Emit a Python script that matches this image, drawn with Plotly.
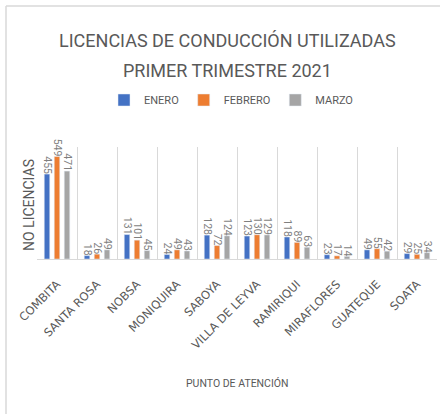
import plotly.graph_objects as go

categories = ["COMBITA", "SANTA ROSA", "NOBSA", "MONIQUIRA", "SABOYA",
              "VILLA DE LEYVA", "RAMIRIQUI", "MIRAFLORES", "GUATEQUE", "SOATA"]
enero = [455, 18, 131, 24, 128, 123, 118, 23, 49, 29]
febrero = [549, 26, 101, 49, 72, 130, 89, 17, 55, 25]
marzo = [471, 49, 45, 43, 124, 129, 63, 14, 42, 34]

series = [("ENERO", enero, "#4472C4"),
          ("FEBRERO", febrero, "#ED7D31"),
          ("MARZO", marzo, "#A5A5A5")]

title_lines = ["LICENCIAS DE CONDUCCIÓN UTILIZADAS", "PRIMER TRIMESTRE 2021"]

FONT = "Roboto, DejaVu Sans, sans-serif"
TICKFONT = "DejaVu Sans, sans-serif"
W, H = 440, 414
ML, MR, MT, MB = 37, 3, 147, 155
PW = W - ML - MR
PH = H - MT - MB

def px_x(px):
    return (px - ML) / PW

def px_y(py):
    return (H - MB - py) / PH

fig = go.Figure()
for name, vals, color in series:
    fig.add_trace(go.Bar(
        x=categories, y=vals, name=name, marker_color=color,
        text=[str(v) for v in vals], textposition="outside", textangle=90,
        constraintext="none", cliponaxis=False,
        textfont=dict(family=FONT, size=10.5, color="#7F7F7F"),
    ))

fig.update_layout(
    width=W, height=H,
    margin=dict(l=ML, r=MR, t=MT, b=MB),
    paper_bgcolor="white", plot_bgcolor="white",
    barmode="group", bargap=0.25, bargroupgap=0.45,
    legend=dict(orientation="h", x=px_x(231), xanchor="center",
                y=px_y(100), yanchor="middle",
                font=dict(family=FONT, size=11, color="#595959"),
                itemwidth=30, bgcolor="rgba(0,0,0,0)"),
    showlegend=True,
)
fig.update_xaxes(
    type="category", tickson="boundaries", showgrid=True, gridcolor="#D9D9D9",
    gridwidth=1, showline=True, linecolor="#D9D9D9", ticks="", tickangle=-45,
    ticklabelstandoff=13,
    tickfont=dict(family=TICKFONT, size=11.5, color="#595959"),
)
fig.update_yaxes(range=[0, 600], showgrid=False, showticklabels=False,
                 zeroline=False, showline=False, ticks="")

# chart title (two centred lines)
for line, yc in zip(title_lines, [40, 70]):
    fig.add_annotation(text=line, xref="paper", yref="paper",
                       x=px_x(227), y=px_y(yc), xanchor="center", yanchor="middle",
                       showarrow=False,
                       font=dict(family=FONT, size=18, color="#595959"))

fig.add_annotation(text="NO LICENCIAS", textangle=-90, xref="paper", yref="paper",
                   x=px_x(29), y=px_y(205), xanchor="center", yanchor="middle",
                   showarrow=False,
                   font=dict(family=FONT, size=14, color="#595959"))
fig.add_annotation(text="PUNTO DE ATENCIÓN", xref="paper", yref="paper",
                   x=px_x(237), y=px_y(383), xanchor="center", yanchor="middle",
                   showarrow=False,
                   font=dict(family=FONT, size=10.5, color="#595959"))

# chart frame (top and left edges)
fig.add_shape(type="line", xref="paper", yref="paper",
              x0=px_x(6), x1=px_x(440), y0=px_y(6), y1=px_y(6),
              line=dict(color="#D9D9D9", width=1.5))
fig.add_shape(type="line", xref="paper", yref="paper",
              x0=px_x(6), x1=px_x(6), y0=px_y(6), y1=px_y(414),
              line=dict(color="#D9D9D9", width=1.5))

fig.write_html("out.html", config={"displayModeBar": False},
               post_script="document.body.style.margin='0';")
